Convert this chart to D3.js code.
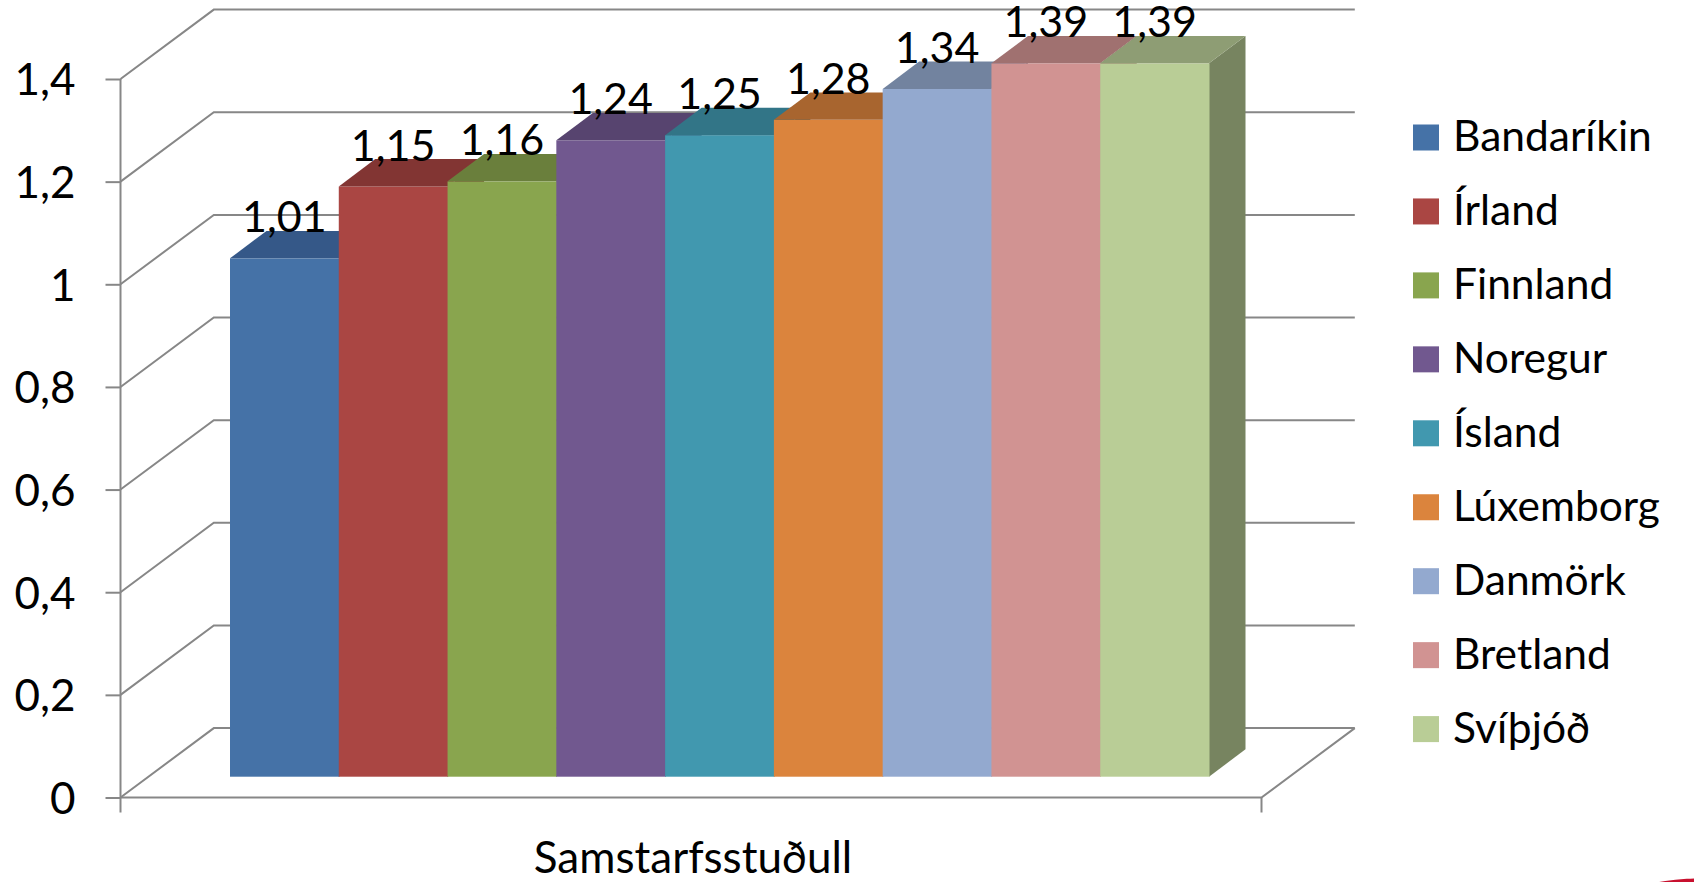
<!DOCTYPE html>
<html>
<head>
<meta charset="utf-8">
<script src="https://cdn.jsdelivr.net/npm/d3@7"></script>
<style>
  body{margin:0;background:#fff;}
  svg{display:block;font-family:Lato,"Noto Sans",sans-serif;}
</style>
</head>
<body>
<svg id="chart" width="1694" height="882"></svg>
<script>
// data
let countries=["Bandaríkin","Írland","Finnland","Noregur","Ísland","Lúxemborg","Danmörk","Bretland","Svíþjóð"];
let values=[1.01,1.15,1.16,1.24,1.25,1.28,1.34,1.39,1.39];
let yTicks=[0,0.2,0.4,0.6,0.8,1,1.2,1.4];
let category="Samstarfsstuðull";
let fronts=["#4572A7","#AA4643","#89A54E","#71588F","#4198AF","#DB843D","#93A9CF","#D19392","#B9CD96"];
let tops=["#355888","#823533","#6A7F3C","#57446F","#327587","#A8652F","#72839F","#A07170","#8E9D74"];
let sides=["#2F4F77","#72302E","#5E7035","#4D3C61","#2C6776","#935829","#657490","#8E6362","#778460"];

let fmt=(v)=>String(v).replace(".",",");

const render=()=>{
  let svg=d3.select("#chart");
  let grid="#878787";

  // front plane of the chart walls
  let y=d3.scaleLinear().domain([0,1.4]).range([797.5,79]);
  let x0=120.5, x1=1261.5;
  let wall={dx:93.3,dy:-69.4};
  // bars sit a little into the depth
  let barShift=-20.8;
  let depth={dx:36.5,dy:-27.4};
  let x=d3.scaleBand().domain(countries).range([230,1209]).padding(0);

  // back-wall + side-wall gridlines
  let g=svg.append("g").attr("stroke",grid).attr("stroke-width",2).attr("fill","none");
  g.selectAll("path.grid")
    .data(yTicks)
    .enter()
      .append("path")
      .attr("class","grid")
      .attr("d",(t)=>`M${x0},${y(t)}L${x0+wall.dx},${y(t)+wall.dy}L${x1+wall.dx},${y(t)+wall.dy}`);

  // floor front edge and right edge
  g.append("path")
    .attr("d",`M${x0},${y(0)}L${x1},${y(0)}L${x1+wall.dx},${y(0)+wall.dy}`);

  // value axis
  let axis=d3.axisLeft(y).tickValues(yTicks).tickSize(15).tickFormat(fmt);
  let ax=svg.append("g").attr("transform",`translate(${x0},0)`).call(axis);
  ax.select(".domain").remove();
  ax.append("line").attr("x1",0).attr("x2",0).attr("y1",y(1.4)).attr("y2",y(0)+15)
    .attr("stroke",grid).attr("stroke-width",2);
  ax.selectAll(".tick line").attr("stroke",grid).attr("stroke-width",2);
  ax.selectAll(".tick text")
    .attr("x",-45)
    .attr("dy","0.36em")
    .attr("fill","#000")
    .style("font-size","44px")
    .style("font-family","Lato,'Noto Sans',sans-serif");

  // category tick at right end
  svg.append("line").attr("x1",x1).attr("x2",x1).attr("y1",y(0)).attr("y2",y(0)+15)
    .attr("stroke",grid).attr("stroke-width",2);

  // bars
  let by=(v)=>y(v)+barShift;
  let bars=svg.selectAll("g.bar")
    .data(countries)
    .enter()
      .append("g")
      .attr("class","bar");

  bars.append("path")
    .attr("fill",(d,i)=>sides[i])
    .attr("d",(d,i)=>{
      let r=x(d)+x.bandwidth(), t=by(values[i]), b=by(0);
      return `M${r},${b}L${r},${t}L${r+depth.dx},${t+depth.dy}L${r+depth.dx},${b+depth.dy}Z`;
    });
  bars.append("rect")
    .attr("fill",(d,i)=>fronts[i])
    .attr("x",(d)=>x(d))
    .attr("width",x.bandwidth()+0.5)
    .attr("y",(d,i)=>by(values[i]))
    .attr("height",(d,i)=>by(0)-by(values[i]));
  bars.append("path")
    .attr("fill",(d,i)=>tops[i])
    .attr("d",(d,i)=>{
      let l=x(d), r=l+x.bandwidth(), t=by(values[i]);
      return `M${l},${t}L${r},${t}L${r+depth.dx},${t+depth.dy}L${l+depth.dx},${t+depth.dy}Z`;
    });

  // data labels
  svg.append("g").selectAll("text")
    .data(countries)
    .enter()
      .append("text")
      .attr("x",(d)=>x(d)+x.bandwidth()/2)
      .attr("y",(d,i)=>by(values[i])+depth.dy+1.5)
      .attr("text-anchor","middle")
      .style("font-size","43px")
      .text((d,i)=>fmt(values[i]));

  // category title
  svg.append("text")
    .attr("x",(x0+x1)/2+2)
    .attr("y",873)
    .attr("text-anchor","middle")
    .style("font-size","44px")
    .text(category);

  // legend
  let leg=svg.append("g").selectAll("g")
    .data(countries)
    .enter()
      .append("g")
      .attr("transform",(d,i)=>`translate(1413,${124.5+i*73.95})`);
  leg.append("rect").attr("width",26).attr("height",26).attr("fill",(d,i)=>fronts[i]);
  leg.append("text").attr("x",40).attr("y",26.5).style("font-size","42.5px").text((d)=>d);

  // corner of a logo cut off at the bottom right
  svg.append("ellipse").attr("cx",1712).attr("cy",888).attr("rx",66).attr("ry",10).attr("fill","#C8102E");
}

window.onload=render;
</script>
</body>
</html>
